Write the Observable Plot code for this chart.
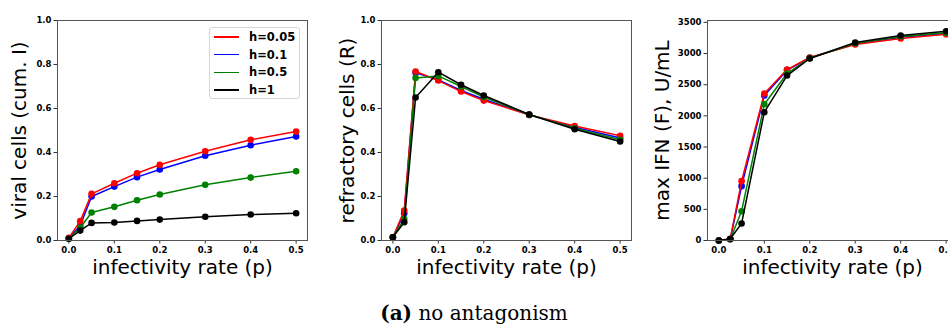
<!DOCTYPE html>
<html>
<head>
<meta charset="utf-8">
<script src="https://cdn.jsdelivr.net/npm/d3@7"></script>
<script src="https://cdn.jsdelivr.net/npm/@observablehq/plot@0.6"></script>
<style>
  html, body { margin: 0; padding: 0; background: #fff; overflow: hidden; }
  #wrap { position: relative; width: 948px; height: 327px; overflow: hidden; background: #fff; }
  .panel { position: absolute; top: 0; }
  .panel svg { max-width: none !important; }
  #legend { position: absolute; left: 209px; top: 27px; width: 91px; height: 72px; border: 1px solid #d6d6d6; border-radius: 3px; background: rgba(255,255,255,0.85); font-family: "DejaVu Sans", sans-serif; font-weight: bold; font-size: 11.5px; box-sizing: border-box; }
  .lrow { position: absolute; left: 4px; height: 14px; display: flex; align-items: center; }
  .lrow span.sw { display: inline-block; width: 25px; height: 1.5px; margin-right: 10px; }
  #caption { position: absolute; left: 0; width: 948px; top: 301px; text-align: center; font-family: "DejaVu Serif", serif; font-size: 20px; color: #000; }
</style>
</head>
<body>
<div id="wrap">
  <div id="p1" class="panel" style="left:0px; width:320px"></div>
  <div id="p2" class="panel" style="left:320px; width:316px"></div>
  <div id="p3" class="panel" style="left:636px; width:330px"></div>
  <div id="legend"></div>
  <div id="caption"><b>(a)</b> no antagonism</div>
</div>
<script>
// ---- data ----
const pValues = [0, 0.025, 0.05, 0.1, 0.15, 0.2, 0.3, 0.4, 0.5];
const seriesNames = ["h=0.05", "h=0.1", "h=0.5", "h=1"];
const seriesColors = ["#ff0000", "#0000ff", "#008000", "#000000"];
const xTicks = [0, 0.1, 0.2, 0.3, 0.4, 0.5];

// viral cells (cum. I)
const viral_h005 = [0.012, 0.088, 0.212, 0.260, 0.306, 0.344, 0.406, 0.458, 0.495];
const viral_h01  = [0.010, 0.068, 0.200, 0.245, 0.288, 0.323, 0.385, 0.433, 0.473];
const viral_h05  = [0.008, 0.058, 0.127, 0.153, 0.183, 0.209, 0.253, 0.286, 0.315];
const viral_h1   = [0.008, 0.045, 0.080, 0.082, 0.089, 0.095, 0.108, 0.118, 0.124];
const viralTicks = [0, 0.2, 0.4, 0.6, 0.8, 1.0];

// refractory cells (R)
const refr_h005 = [0.015, 0.136, 0.768, 0.727, 0.677, 0.636, 0.571, 0.520, 0.476];
const refr_h01  = [0.015, 0.124, 0.762, 0.730, 0.682, 0.642, 0.571, 0.515, 0.466];
const refr_h05  = [0.015, 0.098, 0.739, 0.748, 0.700, 0.652, 0.572, 0.510, 0.458];
const refr_h1   = [0.015, 0.083, 0.650, 0.765, 0.708, 0.659, 0.573, 0.506, 0.450];
const refrTicks = [0, 0.2, 0.4, 0.6, 0.8, 1.0];

// max IFN (F), U/mL
const ifn_h005 = [0, 22, 952, 2358, 2743, 2936, 3145, 3240, 3310];
const ifn_h01  = [0, 20, 872, 2326, 2733, 2932, 3155, 3260, 3320];
const ifn_h05  = [0, 20, 470, 2187, 2679, 2925, 3165, 3275, 3335];
const ifn_h1   = [0, 27, 273, 2059, 2647, 2920, 3176, 3289, 3358];
const ifnTicks = [0, 500, 1000, 1500, 2000, 2500, 3000, 3500];

// draw order (bottom to top): blue, red, green, black
const drawOrder = [1, 0, 2, 3];

function rows(seriesArrays) {
  const out = [];
  for (const si of drawOrder) {
    pValues.forEach((p, i) => out.push({p, v: seriesArrays[si][i], s: seriesNames[si], si}));
  }
  return out;
}

const FONT = "DejaVu Sans";
function panel(el, opts) {
  const data = rows(opts.series);
  const marks = [];
  for (const si of drawOrder) {
    const d = data.filter(r => r.si === si);
    marks.push(Plot.line(d, {x: "p", y: "v", stroke: seriesColors[si], strokeWidth: 1.5}));
    marks.push(Plot.dot(d, {x: "p", y: "v", fill: seriesColors[si], r: 3.3, stroke: "none"}));
  }
  const chart = Plot.plot({
    width: opts.width,
    height: 290,
    marginLeft: opts.marginLeft,
    marginRight: opts.marginRight,
    marginTop: 20,
    marginBottom: 50,
    style: {fontFamily: FONT, background: "transparent", maxWidth: "none", overflow: "visible"},
    x: {domain: [-0.025, 0.525]},
    y: {domain: opts.yDomain},
    marks: [
      Plot.axisX({ticks: xTicks, tickFormat: d3.format(".1f"), tickSize: 3.5, tickPadding: 2.5, fontSize: 8.5, fontWeight: "bold", label: null, stroke: "#333"}),
      Plot.axisY({ticks: opts.yTicks, tickFormat: opts.yFormat, tickSize: 3.5, tickPadding: 2.5, fontSize: 8.5, fontWeight: "bold", label: null, stroke: "#333"}),
      ...marks,
      Plot.frame({stroke: "#555", strokeWidth: 1}),
      Plot.text(["infectivity rate (p)"], {frameAnchor: "bottom", dy: 27, fontSize: 20, fontFamily: FONT, fill: "#000", lineAnchor: "middle", textAnchor: "middle"}),
      Plot.text([opts.yLabel], {frameAnchor: "left", dx: opts.yLabelDx, rotate: -90, fontSize: 20, fontFamily: FONT, fill: "#000", lineAnchor: "middle", textAnchor: "middle"})
    ]
  });
  document.getElementById(el).appendChild(chart);
}

panel("p1", {width: 320, marginLeft: 57, marginRight: 13, yDomain: [0, 1], yTicks: viralTicks, yFormat: d3.format(".1f"),
  series: [viral_h005, viral_h01, viral_h05, viral_h1], yLabel: "viral cells (cum. I)", yLabelDx: -38});
panel("p2", {width: 316, marginLeft: 61, marginRight: 5, yDomain: [0, 1], yTicks: refrTicks, yFormat: d3.format(".1f"),
  series: [refr_h005, refr_h01, refr_h05, refr_h1], yLabel: "refractory cells (R)", yLabelDx: -34});
panel("p3", {width: 330, marginLeft: 71, marginRight: 9, yDomain: [0, 3530], yTicks: ifnTicks, yFormat: d3.format("d"),
  series: [ifn_h005, ifn_h01, ifn_h05, ifn_h1], yLabel: "max IFN (F), U/mL", yLabelDx: -45});

// legend
const legend = document.getElementById("legend");
seriesNames.forEach((name, i) => {
  const row = document.createElement("div");
  row.className = "lrow";
  row.style.top = (2 + i * 17.7) + "px";
  const sw = document.createElement("span");
  sw.className = "sw";
  sw.style.background = seriesColors[i];
  const t = document.createElement("span");
  t.textContent = name;
  row.appendChild(sw);
  row.appendChild(t);
  legend.appendChild(row);
});
</script>
</body>
</html>
